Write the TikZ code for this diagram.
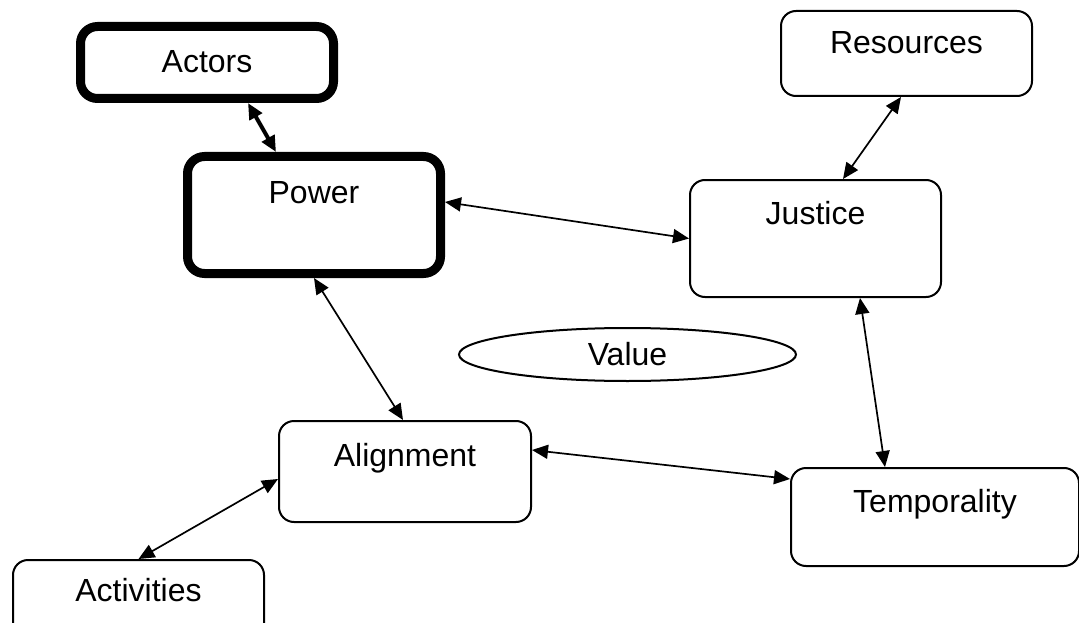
\documentclass[tikz,border=0pt]{standalone}
\usepackage{fontspec}
\setmainfont{Liberation Sans}
\usetikzlibrary{arrows.meta,shapes.geometric}
\tikzset{
  box/.style={draw, rounded corners=15pt, line width=2pt, inner sep=0pt,
    minimum width=251pt, font=\fontsize{32}{38}\selectfont},
  heavybox/.style={box, line width=9pt, rounded corners=17pt, minimum width=253pt},
  link/.style={{Triangle[length=16pt,width=14pt]}-{Triangle[length=16pt,width=14pt]}, line width=1.7pt},
  heavylink/.style={link, line width=4pt}
}
\begin{document}
\begin{tikzpicture}[x=1pt, y=-1pt]
    \useasboundingbox (0,0) rectangle (1079,623);
    \clip (0,0) rectangle (1079,623);
    % boxes
    \node[heavybox, text height=46.5pt, text depth=25.5pt] (actors) at (207,62.5) {Actors};
    \node[heavybox, text height=47.5pt, text depth=69.5pt] (power) at (314,215) {Power};
    \node[box, text height=43pt, text depth=42pt] (resources) at (906.5,53.5) {Resources};
    \node[box, text height=44pt, text depth=73pt] (justice) at (815.5,238.5) {Justice};
    \node[box, minimum width=252pt, text height=45pt, text depth=56pt] (alignment) at (405,471.5) {Alignment};
    \node[box, minimum width=288pt, text height=44pt, text depth=54pt] (temporality) at (935,517) {Temporality};
    \node[box, text height=41pt, text depth=59pt] (activities) at (138.5,610) {Activities};
    % value in the middle
    \node[draw, ellipse, line width=2pt, inner sep=0pt, minimum width=337pt, minimum height=53pt,
      font=\fontsize{32}{38}\selectfont] (value) at (627.5,354.5) {Value};
    % arrows
    \draw[heavylink] ([xshift=41pt]actors.south) -- ([xshift=-38pt]power.north);
    \draw[link] ([xshift=-5.5pt]resources.south) -- ([xshift=27.5pt]justice.north);
    \draw[link] ([yshift=13pt]power.east) -- (justice.west);
    \draw[link] (power.south) -- ([xshift=-2pt]alignment.north);
    \draw[link] ([xshift=44.5pt]justice.south) -- ([xshift=-50pt]temporality.north);
    \draw[link] ([yshift=21.5pt]alignment.east) -- ([yshift=38pt]temporality.west);
    \draw[link] ([yshift=-7.5pt]alignment.west) -- (activities.north);
\end{tikzpicture}
\end{document}
